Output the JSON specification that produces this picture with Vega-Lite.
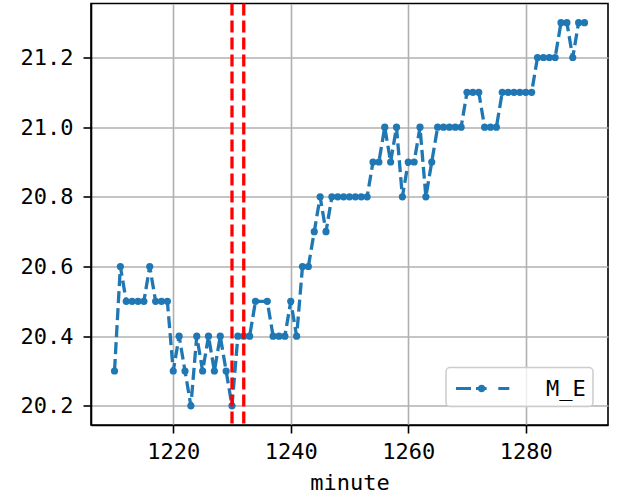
{
  "$schema": "https://vega.github.io/schema/vega-lite/v6.json",
  "autosize": {"type": "none"},
  "width": 517,
  "height": 421.5,
  "padding": {"left": 91, "top": 3.5, "right": 11, "bottom": 78},
  "background": "white",
  "datasets": {
    "series": [
      {"minute": 1210, "value": 20.3, "series": "M_E"},
      {"minute": 1211, "value": 20.6, "series": "M_E"},
      {"minute": 1212, "value": 20.5, "series": "M_E"},
      {"minute": 1213, "value": 20.5, "series": "M_E"},
      {"minute": 1214, "value": 20.5, "series": "M_E"},
      {"minute": 1215, "value": 20.5, "series": "M_E"},
      {"minute": 1216, "value": 20.6, "series": "M_E"},
      {"minute": 1217, "value": 20.5, "series": "M_E"},
      {"minute": 1218, "value": 20.5, "series": "M_E"},
      {"minute": 1219, "value": 20.5, "series": "M_E"},
      {"minute": 1220, "value": 20.3, "series": "M_E"},
      {"minute": 1221, "value": 20.4, "series": "M_E"},
      {"minute": 1222, "value": 20.3, "series": "M_E"},
      {"minute": 1223, "value": 20.2, "series": "M_E"},
      {"minute": 1224, "value": 20.4, "series": "M_E"},
      {"minute": 1225, "value": 20.3, "series": "M_E"},
      {"minute": 1226, "value": 20.4, "series": "M_E"},
      {"minute": 1227, "value": 20.3, "series": "M_E"},
      {"minute": 1228, "value": 20.4, "series": "M_E"},
      {"minute": 1229, "value": 20.3, "series": "M_E"},
      {"minute": 1230, "value": 20.2, "series": "M_E"},
      {"minute": 1231, "value": 20.4, "series": "M_E"},
      {"minute": 1232, "value": 20.4, "series": "M_E"},
      {"minute": 1233, "value": 20.4, "series": "M_E"},
      {"minute": 1234, "value": 20.5, "series": "M_E"},
      {"minute": 1236, "value": 20.5, "series": "M_E"},
      {"minute": 1237, "value": 20.4, "series": "M_E"},
      {"minute": 1238, "value": 20.4, "series": "M_E"},
      {"minute": 1239, "value": 20.4, "series": "M_E"},
      {"minute": 1240, "value": 20.5, "series": "M_E"},
      {"minute": 1241, "value": 20.4, "series": "M_E"},
      {"minute": 1242, "value": 20.6, "series": "M_E"},
      {"minute": 1243, "value": 20.6, "series": "M_E"},
      {"minute": 1244, "value": 20.7, "series": "M_E"},
      {"minute": 1245, "value": 20.8, "series": "M_E"},
      {"minute": 1246, "value": 20.7, "series": "M_E"},
      {"minute": 1247, "value": 20.8, "series": "M_E"},
      {"minute": 1248, "value": 20.8, "series": "M_E"},
      {"minute": 1249, "value": 20.8, "series": "M_E"},
      {"minute": 1250, "value": 20.8, "series": "M_E"},
      {"minute": 1251, "value": 20.8, "series": "M_E"},
      {"minute": 1252, "value": 20.8, "series": "M_E"},
      {"minute": 1253, "value": 20.8, "series": "M_E"},
      {"minute": 1254, "value": 20.9, "series": "M_E"},
      {"minute": 1255, "value": 20.9, "series": "M_E"},
      {"minute": 1256, "value": 21.0, "series": "M_E"},
      {"minute": 1257, "value": 20.9, "series": "M_E"},
      {"minute": 1258, "value": 21.0, "series": "M_E"},
      {"minute": 1259, "value": 20.8, "series": "M_E"},
      {"minute": 1260, "value": 20.9, "series": "M_E"},
      {"minute": 1261, "value": 20.9, "series": "M_E"},
      {"minute": 1262, "value": 21.0, "series": "M_E"},
      {"minute": 1263, "value": 20.8, "series": "M_E"},
      {"minute": 1264, "value": 20.9, "series": "M_E"},
      {"minute": 1265, "value": 21.0, "series": "M_E"},
      {"minute": 1266, "value": 21.0, "series": "M_E"},
      {"minute": 1267, "value": 21.0, "series": "M_E"},
      {"minute": 1268, "value": 21.0, "series": "M_E"},
      {"minute": 1269, "value": 21.0, "series": "M_E"},
      {"minute": 1270, "value": 21.1, "series": "M_E"},
      {"minute": 1271, "value": 21.1, "series": "M_E"},
      {"minute": 1272, "value": 21.1, "series": "M_E"},
      {"minute": 1273, "value": 21.0, "series": "M_E"},
      {"minute": 1274, "value": 21.0, "series": "M_E"},
      {"minute": 1275, "value": 21.0, "series": "M_E"},
      {"minute": 1276, "value": 21.1, "series": "M_E"},
      {"minute": 1277, "value": 21.1, "series": "M_E"},
      {"minute": 1278, "value": 21.1, "series": "M_E"},
      {"minute": 1279, "value": 21.1, "series": "M_E"},
      {"minute": 1280, "value": 21.1, "series": "M_E"},
      {"minute": 1281, "value": 21.1, "series": "M_E"},
      {"minute": 1282, "value": 21.2, "series": "M_E"},
      {"minute": 1283, "value": 21.2, "series": "M_E"},
      {"minute": 1284, "value": 21.2, "series": "M_E"},
      {"minute": 1285, "value": 21.2, "series": "M_E"},
      {"minute": 1286, "value": 21.3, "series": "M_E"},
      {"minute": 1287, "value": 21.3, "series": "M_E"},
      {"minute": 1288, "value": 21.2, "series": "M_E"},
      {"minute": 1289, "value": 21.3, "series": "M_E"},
      {"minute": 1290, "value": 21.3, "series": "M_E"}
    ],
    "markers": [
      {"minute": 1230},
      {"minute": 1232}
    ]
  },
  "layer": [
    {
      "data": {"name": "series"},
      "mark": {
        "type": "line",
        "strokeWidth": 3.3,
        "strokeDash": [12, 5],
        "point": {"filled": true, "size": 52}
      },
      "encoding": {
        "x": {
          "field": "minute",
          "type": "quantitative",
          "scale": {"domain": [1206, 1294], "nice": false, "zero": false},
          "axis": {"values": [1220, 1240, 1260, 1280], "title": "minute", "format": "d"}
        },
        "y": {
          "field": "value",
          "type": "quantitative",
          "scale": {"domain": [20.145, 21.355], "nice": false, "zero": false},
          "axis": {"values": [20.2, 20.4, 20.6, 20.8, 21.0, 21.2], "title": null, "format": ".1f"}
        },
        "color": {
          "field": "series",
          "type": "nominal",
          "scale": {"range": ["#1f77b4"]},
          "legend": {
            "title": null,
            "orient": "none",
            "legendX": 355,
            "legendY": 364,
            "padding": 7,
            "symbolOffset": 3,
            "symbolType": "M-1,-0.107H0.071V0.107H-1Z M0.429,-0.107H1.186V0.107H0.429Z M0.558,0A0.271,0.271 0 1,1 1.1,0A0.271,0.271 0 1,1 0.558,0Z M2.021,-0.107H2.807V0.107H2.021Z",
            "symbolSize": 784,
            "symbolStrokeWidth": 0,
            "symbolFillColor": "#1f77b4",
            "labelOffset": 62,
            "labelFont": "DejaVu Sans Mono",
            "labelFontSize": 22,
            "labelColor": "black",
            "fillColor": "rgba(255,255,255,0.8)",
            "strokeColor": "#cccccc",
            "cornerRadius": 4,
            "encode": {
              "symbols": {
                "update": {
                  "fill": {"value": "#1f77b4"},
                  "strokeWidth": {"value": 0},
                  "opacity": {"value": 1}
                }
              },
              "legend": {
                "update": {"strokeWidth": {"value": 1.5}}
              }
            }
          }
        }
      }
    },
    {
      "data": {"name": "markers"},
      "mark": {"type": "rule", "color": "#ff0000", "strokeWidth": 3.3, "strokeDash": [12, 5]},
      "encoding": {
        "x": {"field": "minute", "type": "quantitative"}
      }
    }
  ],
  "config": {
    "view": {"stroke": "black", "strokeWidth": 1.6},
    "axis": {
      "grid": true,
      "gridColor": "#b0b0b0",
      "gridWidth": 1.6,
      "domainColor": "black",
      "domainWidth": 1.6,
      "tickColor": "black",
      "tickWidth": 1.6,
      "tickSize": 8,
      "labelFont": "DejaVu Sans Mono",
      "labelFontSize": 22,
      "labelColor": "black",
      "titleFont": "DejaVu Sans Mono",
      "titleFontSize": 22,
      "titleFontWeight": "normal",
      "titleColor": "black"
    },
    "axisX": {"labelPadding": 8, "titlePadding": 10},
    "axisY": {"labelPadding": 10}
  }
}
